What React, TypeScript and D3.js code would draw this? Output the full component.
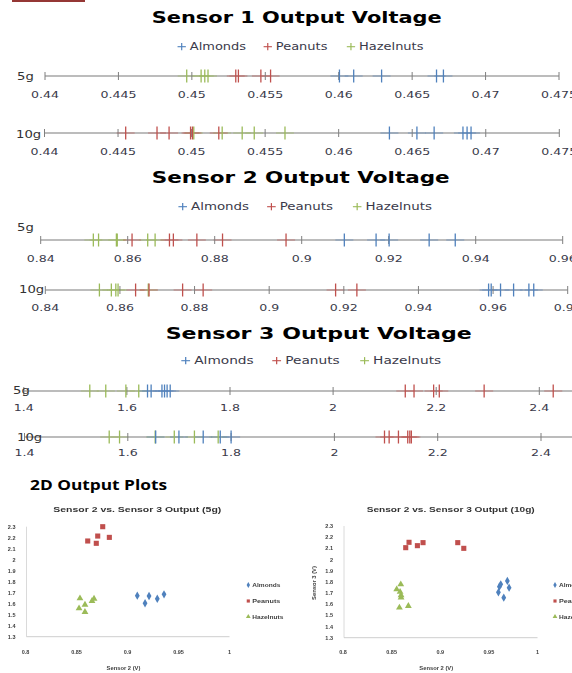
import React from 'react';
import * as d3 from 'd3';

const nuts = ['Almonds', 'Peanuts', 'Hazelnuts'];
const nutColors = ['#4f81bd', '#c0504d', '#9bbb59'];

// Sensor 1 output (V)
const s1Almonds5g = [0.46005, 0.46102, 0.46292, 0.46666, 0.46713];
const s1Peanuts5g = [0.45299, 0.45317, 0.4547, 0.45536];
const s1Hazelnuts5g = [0.44965, 0.45063, 0.45088, 0.4511];
const s1Almonds10g = [0.46345, 0.46532, 0.46649, 0.46845, 0.46873, 0.469];
const s1Peanuts10g = [0.44552, 0.44765, 0.44847, 0.44993, 0.45006, 0.45185];
const s1Hazelnuts10g = [0.45015, 0.45208, 0.45344, 0.45426, 0.45635];

// Sensor 2 output (V)
const s2Almonds5g = [0.9098, 0.9171, 0.9201, 0.9293, 0.9353];
const s2Peanuts5g = [0.861, 0.8696, 0.8705, 0.8759, 0.8818, 0.8964];
const s2Hazelnuts5g = [0.8521, 0.8533, 0.8574, 0.8576, 0.8646, 0.8663];
const s2Almonds10g = [0.9588, 0.9595, 0.962, 0.9655, 0.9696, 0.9709];
const s2Peanuts10g = [0.8642, 0.8678, 0.8768, 0.8823, 0.9178, 0.9235];
const s2Hazelnuts10g = [0.8545, 0.8577, 0.8589, 0.8595, 0.8676];

// Sensor 3 output (V)
const s3Almonds5g = [1.64, 1.647, 1.668, 1.673, 1.678, 1.684];
const s3Peanuts5g = [2.14, 2.157, 2.195, 2.206, 2.293, 2.427];
const s3Hazelnuts5g = [1.528, 1.559, 1.598, 1.623];
const s3Almonds10g = [1.654, 1.699, 1.746, 1.779, 1.8];
const s3Peanuts10g = [2.097, 2.106, 2.124, 2.142, 2.146, 2.149];
const s3Hazelnuts10g = [1.564, 1.584, 1.653, 1.69, 1.729, 1.775];

// 2D plots: [sensor 2, sensor 3]
const p5Almonds = [[0.9096, 1.673], [0.9172, 1.604], [0.9211, 1.67], [0.9292, 1.645], [0.9358, 1.685]];
const p5Peanuts = [[0.861, 2.17], [0.8694, 2.149], [0.8708, 2.215], [0.8757, 2.3], [0.8822, 2.203]];
const p5Hazelnuts = [[0.8534, 1.649], [0.8525, 1.558], [0.8583, 1.591], [0.8583, 1.525], [0.8652, 1.625], [0.8672, 1.645]];
const p10Almonds = [[0.9598, 1.706], [0.9608, 1.757], [0.9622, 1.778], [0.9653, 1.658], [0.969, 1.808], [0.9708, 1.748]];
const p10Peanuts = [[0.8645, 2.106], [0.8679, 2.154], [0.8765, 2.124], [0.8823, 2.151], [0.918, 2.151], [0.9242, 2.1]];
const p10Hazelnuts = [[0.8552, 1.733], [0.8594, 1.778], [0.8587, 1.71], [0.8597, 1.68], [0.8597, 1.66], [0.858, 1.569], [0.8672, 1.584]];

const FONT = "'DejaVu Sans', Verdana, sans-serif";
const SMALL = "'Liberation Sans', Arial, sans-serif";

type Strip = {
  domain: [number, number];
  range: [number, number];
  y: number;
  step: number;
  labelY: number;
  row: string;
  rowX: number;
  rowY: number;
  series: number[][]; // almonds, peanuts, hazelnuts
};

const strips: Strip[] = [
  { domain: [0.44, 0.475], range: [45, 559], y: 76, step: 0.005, labelY: 97.5, row: '5g', rowX: 17, rowY: 80, series: [s1Almonds5g, s1Peanuts5g, s1Hazelnuts5g] },
  { domain: [0.44, 0.475], range: [44.5, 559.3], y: 133, step: 0.005, labelY: 154.5, row: '10g', rowX: 16, rowY: 137.5, series: [s1Almonds10g, s1Peanuts10g, s1Hazelnuts10g] },
  { domain: [0.84, 0.96], range: [40.7, 562.7], y: 240, step: 0.02, labelY: 262, row: '5g', rowX: 17, rowY: 231, series: [s2Almonds5g, s2Peanuts5g, s2Hazelnuts5g] },
  { domain: [0.84, 0.98], range: [45.3, 567.7], y: 290, step: 0.02, labelY: 311, row: '10g', rowX: 19, rowY: 292.5, series: [s2Almonds10g, s2Peanuts10g, s2Hazelnuts10g] },
  { domain: [1.4, 2.6], range: [23.8, 642.4], y: 391, step: 0.2, labelY: 411, row: '5g', rowX: 13, rowY: 393.5, series: [s3Almonds5g, s3Peanuts5g, s3Hazelnuts5g] },
  { domain: [1.4, 2.6], range: [24.5, 644.3], y: 437, step: 0.2, labelY: 456, row: '10g', rowX: 17, rowY: 441, series: [s3Almonds10g, s3Peanuts10g, s3Hazelnuts10g] },
];

const drawOrder = [2, 1, 0];

function StripAxis({ s }: { s: Strip }) {
  const x = d3.scaleLinear().domain(s.domain).range(s.range);
  const ticks = d3.range(s.domain[0], s.domain[1] + s.step / 2, s.step).map(v => +v.toFixed(4));
  return (
    <g>
      <line x1={Math.max(s.range[0], 0)} x2={s.range[1]} y1={s.y} y2={s.y} stroke="#a6a6a6" strokeWidth={1.4} />
      {drawOrder.map(i => s.series[i].map((v, j) => (
        <line key={`h${i}-${j}`} x1={x(v) - 9} x2={x(v) + 9} y1={s.y} y2={s.y}
          stroke={nutColors[i]} strokeOpacity={0.35} strokeWidth={1.6} />
      )))}
      {ticks.map(t => (
        <line key={`t${t}`} x1={x(t)} x2={x(t)} y1={s.y - 4} y2={s.y + 4} stroke="#7f7f7f" strokeWidth={1} />
      ))}
      {drawOrder.map(i => s.series[i].map((v, j) => (
        <line key={`v${i}-${j}`} x1={x(v)} x2={x(v)} y1={s.y - 6.5} y2={s.y + 6.5}
          stroke={nutColors[i]} strokeWidth={1.3} />
      )))}
      {ticks.map(t => (
        <text key={`l${t}`} transform={`translate(${x(t)},${s.labelY}) scale(1.4,1)`} textAnchor="middle"
          fontFamily={FONT} fontSize={9} fill="#3a3a4a">{String(t)}</text>
      ))}
      <text transform={`translate(${s.rowX},${s.rowY}) scale(1.2,1)`} fontFamily={FONT} fontSize={11} fill="#333">{s.row}</text>
    </g>
  );
}

function Legend({ x0, y, sx }: { x0: number; y: number; sx: number }) {
  const offs = [0, 66.2, 130.2];
  return (
    <g transform={`translate(${x0},${y}) scale(${sx},1)`}>
      {nuts.map((n, i) => (
        <g key={n} transform={`translate(${offs[i]},0)`}>
          <line x1={-3.2} x2={3.2} y1={0} y2={0} stroke={nutColors[i]} strokeWidth={1.1} />
          <line x1={0} x2={0} y1={-3.6} y2={3.6} stroke={nutColors[i]} strokeWidth={0.9} />
          <text x={6.2} y={3.6} fontFamily={FONT} fontSize={10} fill="#3a3a4a">{n}</text>
        </g>
      ))}
    </g>
  );
}

const titles = [
  { text: 'Sensor 1 Output Voltage', x: 151.7, w: 290, y: 23.3, lx: 181.7, ly: 46.7, lsx: 1.3 },
  { text: 'Sensor 2 Output Voltage', x: 151.7, w: 298, y: 183.3, lx: 182.7, ly: 206.7, lsx: 1.34 },
  { text: 'Sensor 3 Output Voltage', x: 165.7, w: 306, y: 339, lx: 185.7, ly: 360.7, lsx: 1.374 },
];

type ScatterProps = {
  title: string;
  titleX: number;
  xr: [number, number];
  yr: [number, number];
  series: number[][][];
  legendX: number;
  yTitleX: number;
};

const symbols = [d3.symbolDiamond, d3.symbolSquare, d3.symbolTriangle];
const symbolSizes = [20, 26, 20];

function Scatter({ title, titleX, xr, yr, series, legendX, yTitleX }: ScatterProps) {
  const x = d3.scaleLinear().domain([0.8, 1]).range(xr);
  const y = d3.scaleLinear().domain([1.3, 2.3]).range(yr);
  const xTicks = d3.range(0.8, 1.001, 0.05).map(v => +v.toFixed(2));
  const yTicks = d3.range(1.3, 2.301, 0.1).map(v => +v.toFixed(1));
  const legendY = [585, 601, 616.7];
  return (
    <g filter="url(#soft)" fontFamily={SMALL} fontWeight="bold" fill="#404040">
      <text x={titleX} y={512} fontSize={8} textLength={168} lengthAdjust="spacingAndGlyphs" fill="#333">{title}</text>
      <line x1={xr[0] + 1} x2={xr[0] + 1} y1={yr[1]} y2={yr[0]} stroke="#d0d0d0" strokeWidth={0.8} />
      <line x1={xr[0] + 1} x2={xr[1]} y1={yr[0]} y2={yr[0]} stroke="#c8c8c8" strokeWidth={0.9} />
      {yTicks.map(t => (
        <text key={`y${t}`} x={xr[0] - 10} y={y(t) + 2} fontSize={5.5} textAnchor="end">{String(t)}</text>
      ))}
      {xTicks.map(t => (
        <text key={`x${t}`} x={x(t)} y={653.5} fontSize={5.5} textAnchor="middle">{String(t)}</text>
      ))}
      <text x={(xr[0] + xr[1]) / 2 - 4} y={669.5} fontSize={5.8} textAnchor="middle">Sensor 2 (V)</text>
      <text transform={`translate(${yTitleX},583) rotate(-90)`} fontSize={5.8} textAnchor="middle">Sensor 3 (V)</text>
      {series.map((pts, i) => pts.map((p, j) => (
        <path key={`p${i}-${j}`} transform={`translate(${x(p[0])},${y(p[1])})`}
          d={d3.symbol(symbols[i], symbolSizes[i])() || ''} fill={nutColors[i]} />
      )))}
      {nuts.map((n, i) => (
        <g key={n}>
          <path transform={`translate(${legendX},${legendY[i]})`} d={d3.symbol(symbols[i], 10)() || ''} fill={nutColors[i]} />
          <text x={legendX + 4} y={legendY[i] + 2} fontSize={5.5} textLength={n === 'Hazelnuts' ? 31 : 28} lengthAdjust="spacingAndGlyphs">{n}</text>
        </g>
      ))}
    </g>
  );
}

export default function App() {
  return (
    <svg width={572} height={673} viewBox="0 0 572 673"
      style={{ position: 'absolute', left: 0, top: 0, background: '#fff', display: 'block' }}>
      <defs>
        <filter id="soft" x="-5%" y="-5%" width="110%" height="110%">
          <feGaussianBlur stdDeviation={0.45} />
        </filter>
      </defs>
      <rect x={12} y={0} width={73} height={2} fill="#953735" />
      {titles.map(t => (
        <g key={t.text}>
          <text x={t.x} y={t.y} fontFamily={FONT} fontWeight="bold" fontSize={16} fill="#000"
            textLength={t.w} lengthAdjust="spacingAndGlyphs">{t.text}</text>
          <Legend x0={t.lx} y={t.ly} sx={t.lsx} />
        </g>
      ))}
      {strips.map((s, i) => <StripAxis key={i} s={s} />)}
      <text x={30} y={490} fontFamily="'Open Sans', 'Liberation Sans', sans-serif" fontWeight="bold" fontSize={15}
        textLength={137} lengthAdjust="spacingAndGlyphs" fill="#000">2D Output Plots</text>
      <Scatter title="Sensor 2 vs. Sensor 3 Output (5g)" titleX={53.3} xr={[25.5, 229.5]} yr={[636.7, 526.7]}
        series={[p5Almonds, p5Peanuts, p5Hazelnuts]} legendX={248.3} yTitleX={-1} />
      <Scatter title="Sensor 2 vs. Sensor 3 Output (10g)" titleX={366.7} xr={[343, 537.5]} yr={[637.7, 526]}
        series={[p10Almonds, p10Peanuts, p10Hazelnuts]} legendX={555} yTitleX={315.7} />
    </svg>
  );
}
